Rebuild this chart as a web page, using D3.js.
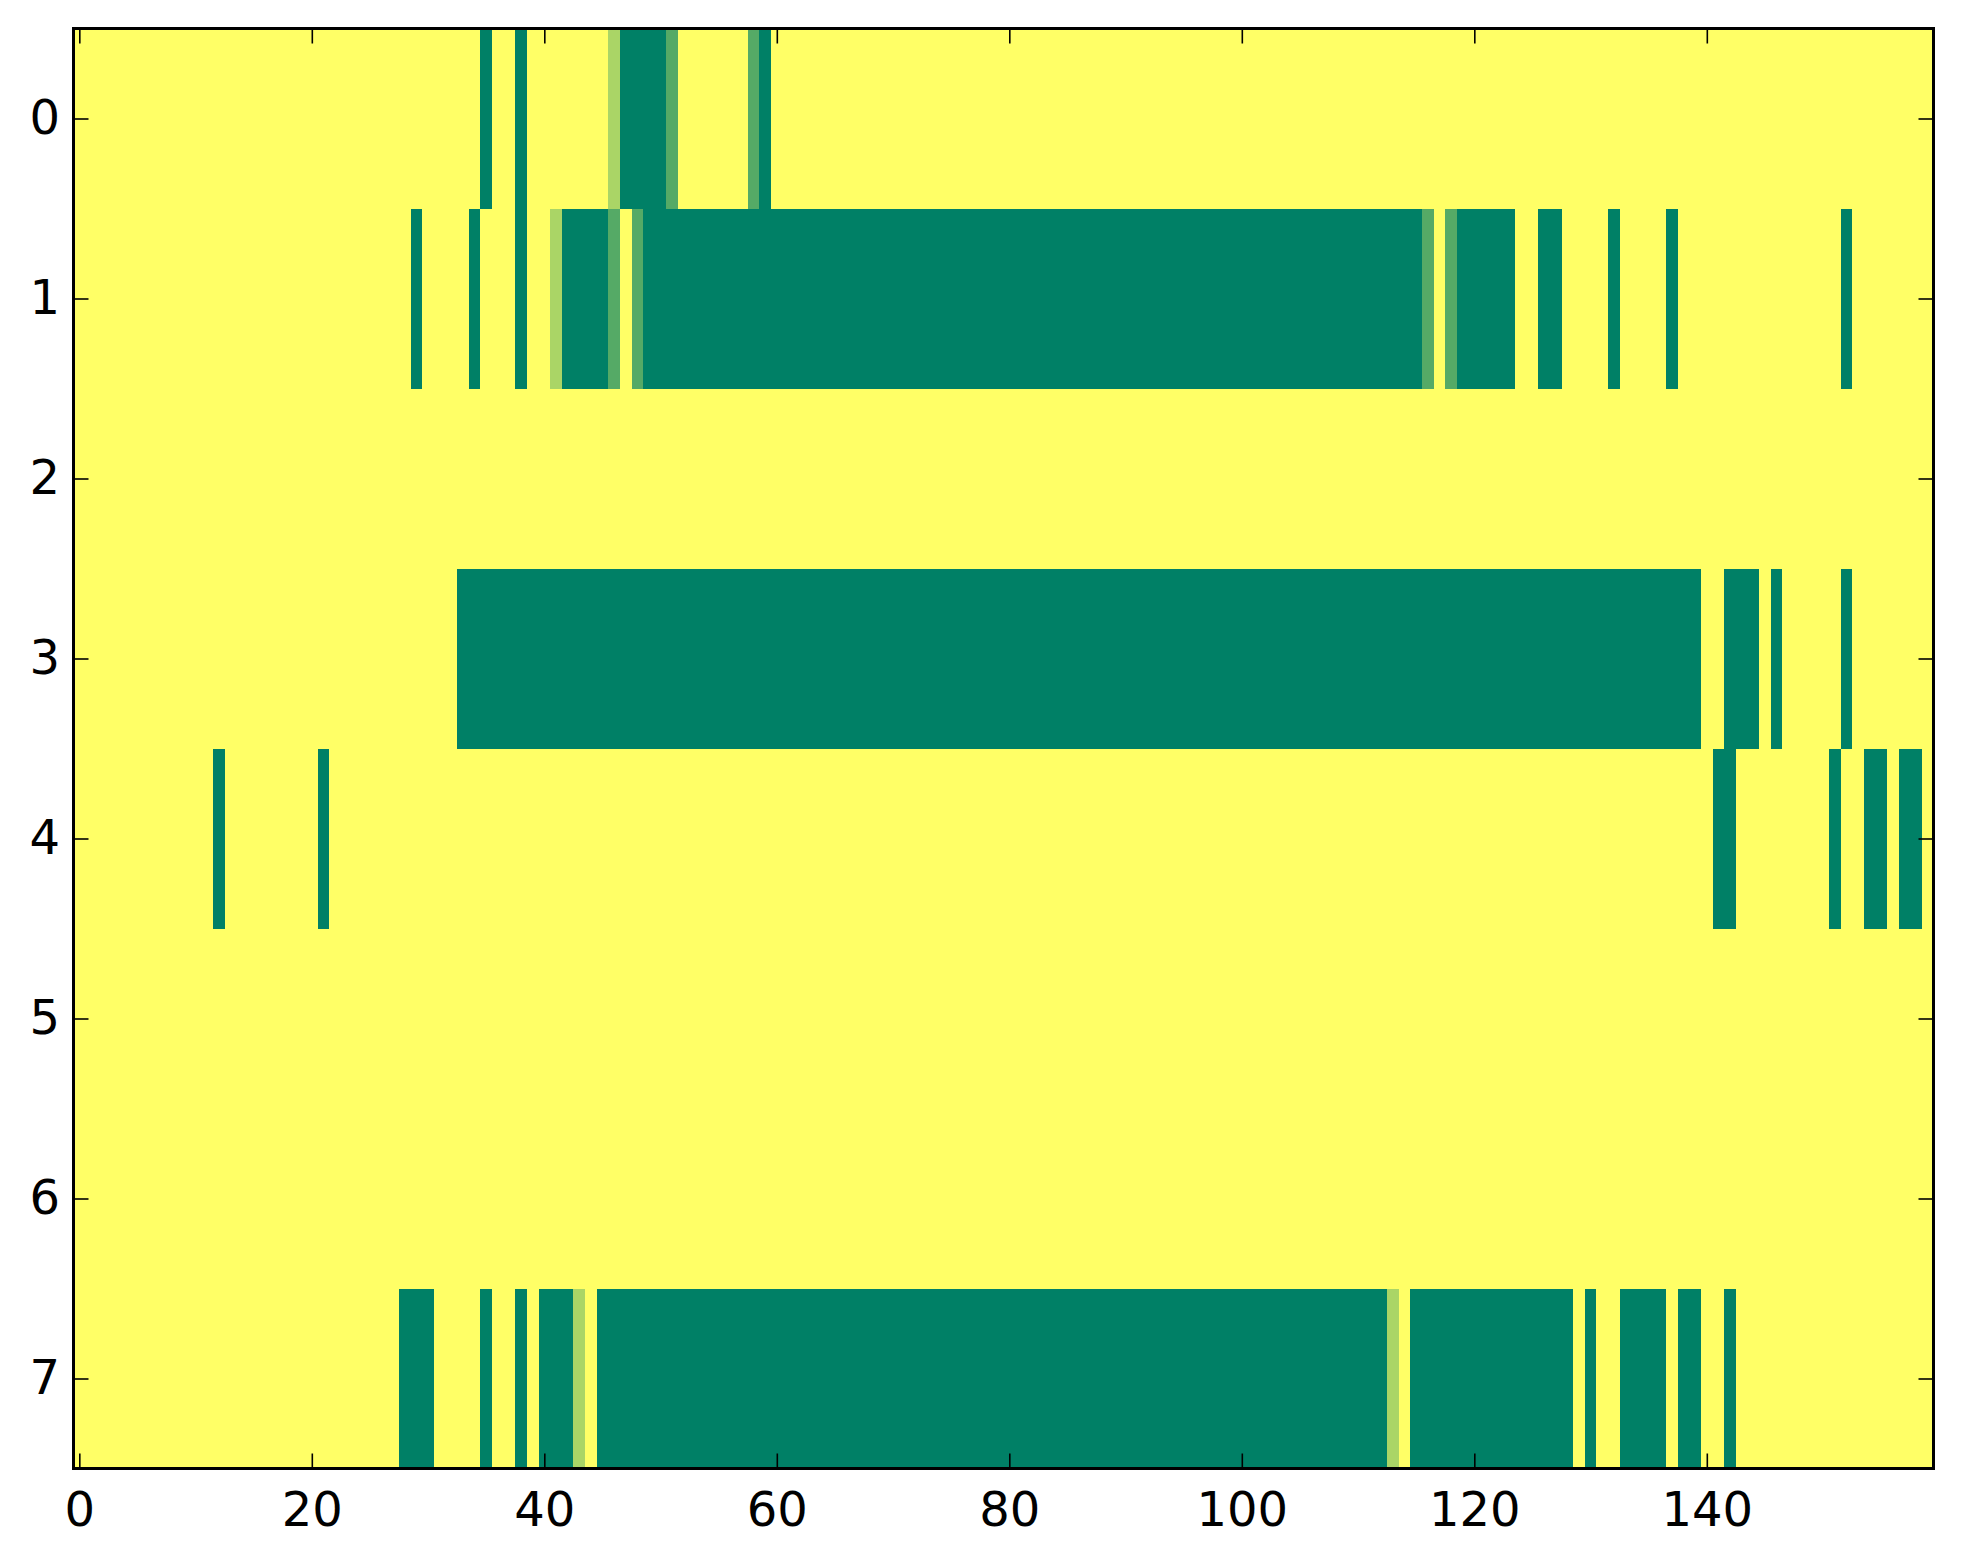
<!DOCTYPE html>
<html>
<head>
<meta charset="utf-8">
<script src="https://cdn.jsdelivr.net/npm/d3@7"></script>
<style>
  html, body { margin: 0; padding: 0; background: #ffffff; }
  svg { display: block; }
  .axis text { font-family: "DejaVu Sans", sans-serif; font-size: 48px; fill: #000; }
  .axis line { stroke: #000; stroke-width: 1.6px; }
</style>
</head>
<body>
<div id="chart"></div>
<script>
// (DATA) one array per image row, 160 columns each
// levels: 0 = empty, 1 = light, 2 = medium, 3 = full
var row0 = [
  0,0,0,0,0,0,0,0,0,0, 0,0,0,0,0,0,0,0,0,0,
  0,0,0,0,0,0,0,0,0,0, 0,0,0,0,0,3,0,0,3,0,
  0,0,0,0,0,0,1,3,3,3, 3,2,0,0,0,0,0,0,2,3,
  0,0,0,0,0,0,0,0,0,0, 0,0,0,0,0,0,0,0,0,0,
  0,0,0,0,0,0,0,0,0,0, 0,0,0,0,0,0,0,0,0,0,
  0,0,0,0,0,0,0,0,0,0, 0,0,0,0,0,0,0,0,0,0,
  0,0,0,0,0,0,0,0,0,0, 0,0,0,0,0,0,0,0,0,0,
  0,0,0,0,0,0,0,0,0,0, 0,0,0,0,0,0,0,0,0,0
];
var row1 = [
  0,0,0,0,0,0,0,0,0,0, 0,0,0,0,0,0,0,0,0,0,
  0,0,0,0,0,0,0,0,0,3, 0,0,0,0,3,0,0,0,3,0,
  0,1,3,3,3,3,2,0,2,3, 3,3,3,3,3,3,3,3,3,3,
  3,3,3,3,3,3,3,3,3,3, 3,3,3,3,3,3,3,3,3,3,
  3,3,3,3,3,3,3,3,3,3, 3,3,3,3,3,3,3,3,3,3,
  3,3,3,3,3,3,3,3,3,3, 3,3,3,3,3,3,2,0,2,3,
  3,3,3,3,0,0,3,3,0,0, 0,0,3,0,0,0,0,3,0,0,
  0,0,0,0,0,0,0,0,0,0, 0,0,3,0,0,0,0,0,0,0
];
var row2 = [
  0,0,0,0,0,0,0,0,0,0, 0,0,0,0,0,0,0,0,0,0,
  0,0,0,0,0,0,0,0,0,0, 0,0,0,0,0,0,0,0,0,0,
  0,0,0,0,0,0,0,0,0,0, 0,0,0,0,0,0,0,0,0,0,
  0,0,0,0,0,0,0,0,0,0, 0,0,0,0,0,0,0,0,0,0,
  0,0,0,0,0,0,0,0,0,0, 0,0,0,0,0,0,0,0,0,0,
  0,0,0,0,0,0,0,0,0,0, 0,0,0,0,0,0,0,0,0,0,
  0,0,0,0,0,0,0,0,0,0, 0,0,0,0,0,0,0,0,0,0,
  0,0,0,0,0,0,0,0,0,0, 0,0,0,0,0,0,0,0,0,0
];
var row3 = [
  0,0,0,0,0,0,0,0,0,0, 0,0,0,0,0,0,0,0,0,0,
  0,0,0,0,0,0,0,0,0,0, 0,0,0,3,3,3,3,3,3,3,
  3,3,3,3,3,3,3,3,3,3, 3,3,3,3,3,3,3,3,3,3,
  3,3,3,3,3,3,3,3,3,3, 3,3,3,3,3,3,3,3,3,3,
  3,3,3,3,3,3,3,3,3,3, 3,3,3,3,3,3,3,3,3,3,
  3,3,3,3,3,3,3,3,3,3, 3,3,3,3,3,3,3,3,3,3,
  3,3,3,3,3,3,3,3,3,3, 3,3,3,3,3,3,3,3,3,3,
  0,0,3,3,3,0,3,0,0,0, 0,0,3,0,0,0,0,0,0,0
];
var row4 = [
  0,0,0,0,0,0,0,0,0,0, 0,0,3,0,0,0,0,0,0,0,
  0,3,0,0,0,0,0,0,0,0, 0,0,0,0,0,0,0,0,0,0,
  0,0,0,0,0,0,0,0,0,0, 0,0,0,0,0,0,0,0,0,0,
  0,0,0,0,0,0,0,0,0,0, 0,0,0,0,0,0,0,0,0,0,
  0,0,0,0,0,0,0,0,0,0, 0,0,0,0,0,0,0,0,0,0,
  0,0,0,0,0,0,0,0,0,0, 0,0,0,0,0,0,0,0,0,0,
  0,0,0,0,0,0,0,0,0,0, 0,0,0,0,0,0,0,0,0,0,
  0,3,3,0,0,0,0,0,0,0, 0,3,0,0,3,3,0,3,3,0
];
var row5 = row2.slice();
var row6 = row2.slice();
var row7 = [
  0,0,0,0,0,0,0,0,0,0, 0,0,0,0,0,0,0,0,0,0,
  0,0,0,0,0,0,0,0,3,3, 3,0,0,0,0,3,0,0,3,0,
  3,3,3,1,0,3,3,3,3,3, 3,3,3,3,3,3,3,3,3,3,
  3,3,3,3,3,3,3,3,3,3, 3,3,3,3,3,3,3,3,3,3,
  3,3,3,3,3,3,3,3,3,3, 3,3,3,3,3,3,3,3,3,3,
  3,3,3,3,3,3,3,3,3,3, 3,3,3,1,0,3,3,3,3,3,
  3,3,3,3,3,3,3,3,3,0, 3,0,0,3,3,3,3,0,3,3,
  0,0,3,0,0,0,0,0,0,0, 0,0,0,0,0,0,0,0,0,0
];
var rows = [row0, row1, row2, row3, row4, row5, row6, row7];

// tick labels
var xTicks = [0, 20, 40, 60, 80, 100, 120, 140];
var yTicks = [0, 1, 2, 3, 4, 5, 6, 7];

// (SVG) canvas
var w = 1963;
var h = 1564;
var plotLeft = 73.5, plotRight = 1933.5, plotTop = 28.5, plotBottom = 1468.5;

var svg = d3.select("#chart").append("svg")
  .attr("width", w)
  .attr("height", h);

// (SCALES) cell centres sit on integers, edges on half values
var xScale = d3.scaleLinear().domain([-0.5, 159.5]).range([plotLeft, plotRight]);
var yScale = d3.scaleLinear().domain([-0.5, 7.5]).range([plotTop, plotBottom]);
// summer_r style ramp: yellow -> green
var color = d3.scaleLinear().domain([0, 3]).range(["#ffff66", "#008066"]);

// (CELLS) flatten rows into cells
var cells = [];
rows.forEach(function(r, ri) {
  r.forEach(function(v, ci) {
    cells.push({ row: ri, col: ci, value: v });
  });
});

svg.append("g")
  .attr("shape-rendering", "crispEdges")
  .selectAll("rect")
  .data(cells)
  .enter()
  .append("rect")
  .attr("x", function(d) { return xScale(d.col - 0.5); })
  .attr("y", function(d) { return yScale(d.row - 0.5); })
  .attr("width", function(d) { return xScale(d.col + 0.5) - xScale(d.col - 0.5) + 0.3; })
  .attr("height", function(d) { return yScale(d.row + 0.5) - yScale(d.row - 0.5) + 0.3; })
  .attr("fill", function(d) { return color(d.value); });

// (AXES) ticks point inward on all four sides
var tickLen = 15;

svg.append("g")
  .attr("class", "axis")
  .attr("transform", "translate(0," + plotBottom + ")")
  .call(d3.axisBottom(xScale).tickValues(xTicks).tickSize(-tickLen).tickPadding(23.5))
  .call(function(g) { g.select(".domain").remove(); });

svg.append("g")
  .attr("class", "axis")
  .attr("transform", "translate(0," + plotTop + ")")
  .call(d3.axisTop(xScale).tickValues(xTicks).tickSize(-tickLen).tickFormat(""))
  .call(function(g) { g.select(".domain").remove(); });

svg.append("g")
  .attr("class", "axis")
  .attr("transform", "translate(" + plotLeft + ",0)")
  .call(d3.axisLeft(yScale).tickValues(yTicks).tickSize(-tickLen).tickPadding(13.5))
  .call(function(g) { g.select(".domain").remove(); });

svg.append("g")
  .attr("class", "axis")
  .attr("transform", "translate(" + plotRight + ",0)")
  .call(d3.axisRight(yScale).tickValues(yTicks).tickSize(-tickLen).tickFormat(""))
  .call(function(g) { g.select(".domain").remove(); });

// (FRAME)
svg.append("rect")
  .attr("x", plotLeft)
  .attr("y", plotTop)
  .attr("width", plotRight - plotLeft)
  .attr("height", plotBottom - plotTop)
  .attr("fill", "none")
  .attr("stroke", "#000")
  .attr("stroke-width", 3);
</script>
</body>
</html>
